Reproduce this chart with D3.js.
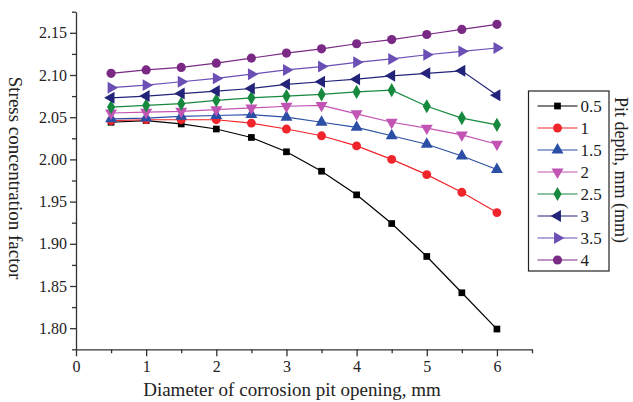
<!DOCTYPE html>
<html>
<head>
<meta charset="utf-8">
<script src="https://cdn.jsdelivr.net/npm/d3@7"></script>
<style>
    body { margin: 0; background: #fff; }
    text { font-family: "Liberation Serif", "Times New Roman", serif; }
</style>
</head>
<body>
<svg id="chart" width="633" height="402"></svg>
<script>
// pit opening diameter, mm
const diameters = [0.5, 1, 1.5, 2, 2.5, 3, 3.5, 4, 4.5, 5, 5.5, 6];
// pit depth, mm (legend labels)
const depths = ["0.5", "1", "1.5", "2", "2.5", "3", "3.5", "4"];

const scf05 = [2.044, 2.046, 2.042, 2.036, 2.026, 2.009, 1.986, 1.958, 1.924, 1.885, 1.842, 1.799];
const scf10 = [2.046, 2.047, 2.047, 2.047, 2.043, 2.036, 2.028, 2.016, 2.000, 1.982, 1.961, 1.937];
const scf15 = [2.048, 2.049, 2.051, 2.052, 2.053, 2.050, 2.044, 2.038, 2.028, 2.018, 2.004, 1.988];
const scf20 = [2.055, 2.056, 2.057, 2.059, 2.061, 2.063, 2.064, 2.054, 2.044, 2.037, 2.029, 2.018];
const scf25 = [2.062, 2.064, 2.066, 2.070, 2.073, 2.075, 2.077, 2.080, 2.082, 2.063, 2.049, 2.041];
const scf30 = [2.073, 2.075, 2.078, 2.081, 2.084, 2.089, 2.092, 2.095, 2.099, 2.102, 2.105, 2.076];
const scf35 = [2.085, 2.088, 2.092, 2.096, 2.101, 2.106, 2.110, 2.115, 2.119, 2.124, 2.128, 2.132];
const scf40 = [2.102, 2.106, 2.109, 2.114, 2.120, 2.126, 2.131, 2.137, 2.142, 2.148, 2.154, 2.160];

const seriesValues = [scf05, scf10, scf15, scf20, scf25, scf30, scf35, scf40];
const colors = ["#000000", "#f0252b", "#2c4fa6", "#c254b4", "#16893f", "#232379", "#6b4fb5", "#7a2985"];
// marker type + rotation + size for each series
const markers = [
    [d3.symbolSquare, 0, 45],
    [d3.symbolCircle, 0, 62],
    [d3.symbolTriangle, 0, 62],
    [d3.symbolTriangle, 180, 62],
    [d3.symbolDiamond, 0, 58],
    [d3.symbolTriangle, -90, 62],
    [d3.symbolTriangle, 90, 62],
    [d3.symbolCircle, 0, 66]
];

const xTicks = [0, 1, 2, 3, 4, 5, 6];
const yTicks = [1.80, 1.85, 1.90, 1.95, 2.00, 2.05, 2.10, 2.15];

const svg = d3.select("#chart");
const plotL = 76, plotR = 532, plotT = 11.7, plotB = 349.3;

const x = d3.scaleLinear().domain([0, 6.5]).range([plotL, plotR]);
const y = d3.scaleLinear().domain([1.775, 2.175]).range([plotB, plotT]);

// minor ticks first, then major axes
svg.append("g")
    .attr("transform", "translate(0," + plotB + ")")
    .call(d3.axisBottom(x).tickValues(d3.range(0.5, 6.6, 1)).tickSize(4).tickFormat(""))
    .call(g => g.select(".domain").remove());
svg.append("g")
    .attr("transform", "translate(" + plotL + ",0)")
    .call(d3.axisLeft(y).tickValues([1.775, 1.825, 1.875, 1.925, 1.975, 2.025, 2.075, 2.125, 2.175]).tickSize(4).tickFormat(""))
    .call(g => g.select(".domain").remove());

const xAxis = svg.append("g")
    .attr("transform", "translate(0," + plotB + ")")
    .call(d3.axisBottom(x).tickValues(xTicks).tickSize(7).tickPadding(4).tickSizeOuter(0).tickFormat(d3.format("d")));
const yAxis = svg.append("g")
    .attr("transform", "translate(" + plotL + ",0)")
    .call(d3.axisLeft(y).tickValues(yTicks).tickSize(6).tickPadding(3).tickSizeOuter(0).tickFormat(d3.format(".2f")));

svg.selectAll(".tick line, .domain").attr("stroke", "#333").attr("stroke-width", 1.3);
svg.selectAll(".tick text").attr("font-family", "Liberation Serif").attr("font-size", 16).attr("fill", "#222");

// lines + markers
const line = d3.line().x((d, i) => x(diameters[i])).y(d => y(d));

seriesValues.forEach((vals, s) => {
    svg.append("path")
        .datum(vals)
        .attr("fill", "none")
        .attr("stroke", colors[s])
        .attr("stroke-width", 1.2)
        .attr("d", line);
    const m = markers[s];
    svg.selectAll(".m" + s)
        .data(vals)
        .enter().append("path")
        .attr("class", "m" + s)
        .attr("d", d3.symbol().type(m[0]).size(m[2]))
        .attr("transform", (d, i) => "translate(" + x(diameters[i]) + "," + y(d) + ") rotate(" + m[1] + ")")
        .attr("fill", colors[s]);
});

// legend
const legend = svg.append("g").attr("transform", "translate(528.5,91)");
legend.append("rect")
    .attr("width", 80.5).attr("height", 180)
    .attr("fill", "#fff").attr("stroke", "#222").attr("stroke-width", 1.2);
depths.forEach((lab, s) => {
    const ly = 15 + s * 22;
    legend.append("line")
        .attr("x1", 9).attr("x2", 49).attr("y1", ly).attr("y2", ly)
        .attr("stroke", colors[s]).attr("stroke-width", 1.2);
    legend.append("path")
        .attr("d", d3.symbol().type(markers[s][0]).size(markers[s][2]))
        .attr("transform", "translate(29," + ly + ") rotate(" + markers[s][1] + ")")
        .attr("fill", colors[s]);
    legend.append("text")
        .attr("x", 52).attr("y", ly + 6)
        .attr("font-size", 17).attr("fill", "#222")
        .text(lab);
});

// axis titles
svg.append("text")
    .attr("transform", "translate(9,178) rotate(90)")
    .attr("text-anchor", "middle")
    .attr("font-size", 19).attr("fill", "#222")
    .text("Stress concentration factor");
svg.append("text")
    .attr("x", 292).attr("y", 396)
    .attr("text-anchor", "middle")
    .attr("font-size", 19).attr("fill", "#222")
    .text("Diameter of corrosion pit opening, mm");
svg.append("text")
    .attr("transform", "translate(615,170) rotate(90)")
    .attr("text-anchor", "middle")
    .attr("font-size", 18).attr("fill", "#222")
    .text("Pit depth, mm (mm)");
</script>
</body>
</html>
